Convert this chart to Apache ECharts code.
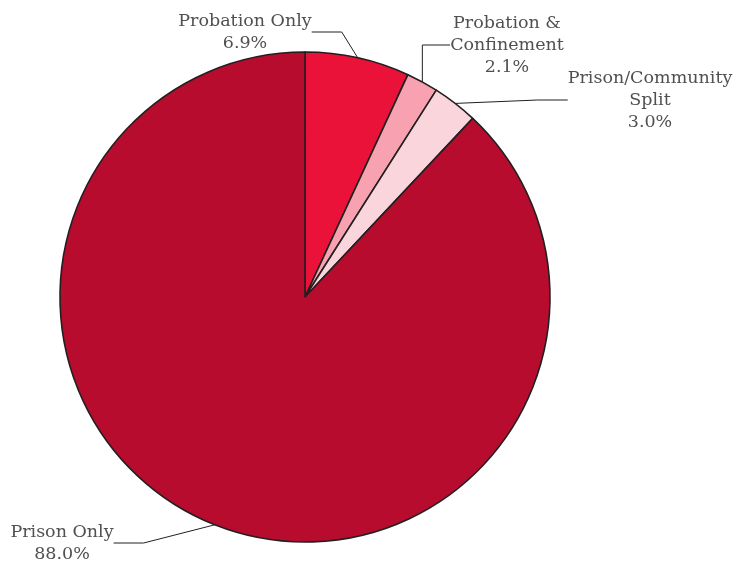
<!DOCTYPE html>
<html>
<head>
<meta charset="utf-8">
<script src="https://cdn.jsdelivr.net/npm/echarts@6/dist/echarts.min.js"></script>
<style>
html,body{margin:0;padding:0;background:#fff;}
#chart{width:737px;height:562px;}
</style>
</head>
<body>
<div id="chart"></div>
<script>
const categories = ['Probation Only', 'Probation &\nConfinement', 'Prison/Community\nSplit', 'Prison Only'];
const values = [6.9, 2.1, 3.0, 88.0];
const colors = ['#EB1239', '#F7A1B1', '#FAD5DC', '#B80C2F'];
// label anchor positions (centre of each label block)
const labelPos = [[245, 32], [507, 45], [650, 100], [62, 543]];

const chart = echarts.init(document.getElementById('chart'));
chart.setOption({
  animation: false,
  series: [{
    type: 'pie',
    center: [305, 297],
    radius: 245,
    startAngle: 90,
    clockwise: true,
    data: categories.map((c, i) => ({
      name: c, value: values[i],
      itemStyle: { color: colors[i] }
    })),
    itemStyle: { borderColor: '#231f20', borderWidth: 1.6 },
    label: {
      show: true,
      formatter: p => p.name + '\n' + p.value.toFixed(1) + '%',
      fontFamily: 'DejaVu Serif',
      fontSize: 17.5,
      lineHeight: 22,
      color: '#505050',
      align: 'center'
    },
    labelLine: {
      show: true,
      lineStyle: { color: '#231f20', width: 1 }
    },
    labelLayout: params => ({
      x: labelPos[params.dataIndex][0],
      y: labelPos[params.dataIndex][1],
      align: 'center',
      verticalAlign: 'middle'
    }),
    emphasis: { disabled: true }
  }]
});
</script>
</body>
</html>
